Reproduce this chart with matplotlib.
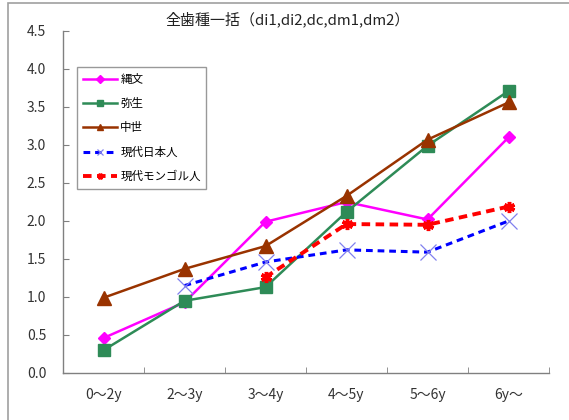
import matplotlib
matplotlib.use('Agg')
import matplotlib.pyplot as plt
from matplotlib.patches import Rectangle

plt.rcParams['font.family'] = ['Noto Sans CJK JP', 'DejaVu Sans']

ages = ['0～2y', '2～3y', '3～4y', '4～5y', '5～6y', '6y～']
jomon = [0.46, 0.93, 1.99, 2.25, 2.02, 3.10]
yayoi = [0.30, 0.95, 1.13, 2.12, 2.99, 3.71]
chusei = [0.99, 1.37, 1.67, 2.33, 3.07, 3.56]
gendai_jp = [None, 1.15, 1.46, 1.62, 1.59, 2.00]
gendai_mn = [None, None, 1.26, 1.96, 1.95, 2.19]
yticks = [0.0, 0.5, 1.0, 1.5, 2.0, 2.5, 3.0, 3.5, 4.0, 4.5]


def pts(vals):
    xs = [i for i, v in enumerate(vals) if v is not None]
    return xs, [vals[i] for i in xs]


fig = plt.figure(figsize=(5.69, 4.2), dpi=100)
# outer chart frame
fig.patches.append(Rectangle((8 / 569, -0.1), 1.2, 1 - 3 / 420 + 0.1,
                             transform=fig.transFigure, fill=False,
                             edgecolor='#a0a0a0', linewidth=1.2))
ax = fig.add_axes([63 / 569, 1 - 373 / 420, (549 - 63) / 569, (373 - 31) / 420])

x, y = pts(jomon)
ax.plot(x, y, color='#ff00ff', lw=1.8, marker='D', ms=6.5, label='縄文')
x, y = pts(yayoi)
ax.plot(x, y, color='#2e8b57', lw=1.8, marker='s', ms=9, label='弥生')
x, y = pts(chusei)
ax.plot(x, y, color='#993300', lw=1.8, marker='^', ms=9.5, label='中世')
x, y = pts(gendai_jp)
ax.plot(x, y, color='#0000ff', lw=2.2, ls=(0, (2.2, 1.6)), marker='x', ms=11,
        mec='#8080ee', mew=0.9, label='現代日本人')
x, y = pts(gendai_mn)
ax.plot(x, y, color='#ff0000', lw=2.8, ls=(0, (2.2, 1.4)), marker=(6, 2, 0), ms=8,
        mew=2.5, label='現代モンゴル人')

ax.set_xlim(-0.5, 5.5)
ax.set_ylim(0, 4.5)
ax.set_yticks(yticks)
ax.set_yticklabels(['%.1f' % v for v in yticks])
ax.set_xticks(range(len(ages)))
ax.set_xticklabels(ages)
ax.set_xticks([i + 0.5 for i in range(len(ages))], minor=True)
ax.tick_params(axis='x', which='major', length=0, pad=10.5, labelsize=10, colors='#333333')
ax.tick_params(axis='x', which='minor', direction='in', length=4, color='#808080')
ax.tick_params(axis='y', direction='in', length=4, color='#808080', pad=26,
               labelsize=10, labelcolor='#333333')
for lbl in ax.get_yticklabels():
    lbl.set_horizontalalignment('left')
ax.spines['top'].set_visible(False)
ax.spines['right'].set_visible(False)
for s in ('left', 'bottom'):
    ax.spines[s].set_color('#808080')
    ax.spines[s].set_linewidth(1.0)

fig.text(288 / 569, 1 - 19 / 420, '全歯種一括（di1,di2,dc,dm1,dm2）',
         ha='center', va='center', fontsize=10.8, color='#222222')

leg = ax.legend(loc='upper left', bbox_to_anchor=(77 / 569, 1 - 67 / 420),
                bbox_transform=fig.transFigure, fontsize=8.3, frameon=True,
                fancybox=False, edgecolor='#808080', borderpad=0.5,
                labelspacing=0.98, handlelength=3.0, handletextpad=0.25,
                borderaxespad=0)
leg.get_frame().set_linewidth(1.0)
for h in leg.legend_handles:
    h.set_markersize(4)

fig.savefig('out.png', dpi=100)
